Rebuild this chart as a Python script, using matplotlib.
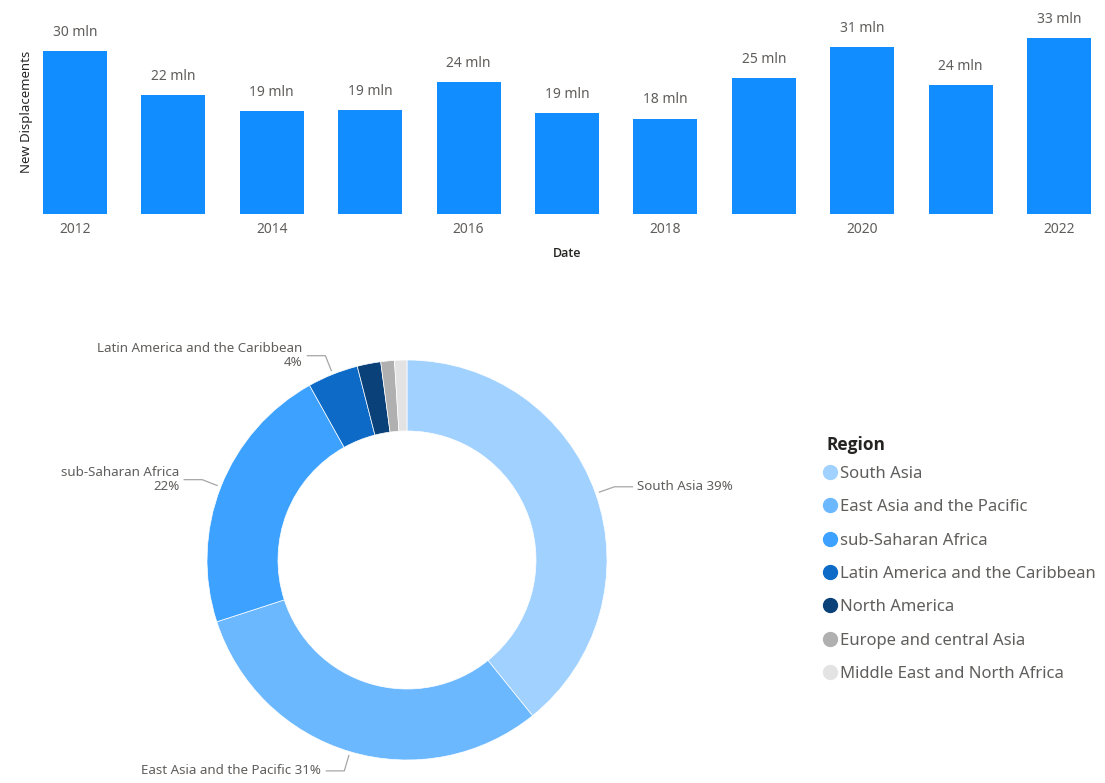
import numpy as np
import matplotlib
matplotlib.use("Agg")
import matplotlib.pyplot as plt
from matplotlib.lines import Line2D

plt.rcParams["font.family"] = ["Noto Sans", "DejaVu Sans"]
BOLD_FAMILY = ["Open Sans", "Lato", "DejaVu Sans"]

# bar chart data: new displacements per year (millions)
years = [2012, 2013, 2014, 2015, 2016, 2017, 2018, 2019, 2020, 2021, 2022]
displacements = [30.0, 21.9, 19.0, 19.2, 24.3, 18.6, 17.6, 25.0, 30.8, 23.7, 32.5]
bar_labels = ["30 mln", "22 mln", "19 mln", "19 mln", "24 mln", "19 mln",
              "18 mln", "25 mln", "31 mln", "24 mln", "33 mln"]

# donut data: share by region (%)
regions = ["South Asia", "East Asia and the Pacific", "sub-Saharan Africa",
           "Latin America and the Caribbean", "North America",
           "Europe and central Asia", "Middle East and North Africa"]
shares = [39.2, 30.8, 21.9, 4.1, 1.9, 1.1, 1.0]
region_colors = ["#A0D1FF", "#6CB8FF", "#3DA2FF", "#0D6BC7", "#0A4178",
                 "#B0B0B0", "#E3E3E3"]
slice_labels = ["South Asia 39%", "East Asia and the Pacific 31%",
                "sub-Saharan Africa\n22%", "Latin America and the Caribbean\n4%",
                None, None, None]

W, H = 1105, 783
fig = plt.figure(figsize=(W / 100, H / 100), dpi=100)

grey = "#605E5C"
dark = "#252423"

# ---- top bar chart
ax = fig.add_axes([35.6 / W, 1 - 214 / H, (1098.4 - 35.6) / W, 204 / H])
x = np.arange(len(years))
ax.bar(x, displacements, width=0.65, color="#118DFF")
for xi, v, lab in zip(x, displacements, bar_labels):
    ax.annotate(lab, (xi, v), xytext=(0, 8), textcoords="offset points",
                ha="center", va="bottom", fontsize=10, color=grey)
ax.set_xlim(-0.4, 10.4)
ax.set_ylim(0, 37.6)
ax.set_xticks(x[::2])
ax.set_xticklabels([str(y) for y in years[::2]], fontsize=10, color=grey)
ax.tick_params(axis="x", length=0, pad=6)
ax.set_yticks([])
for s in ax.spines.values():
    s.set_visible(False)
ax.set_xlabel("Date", fontsize=9, color=dark, fontweight="semibold",
              family=BOLD_FAMILY, labelpad=7)
ax.set_ylabel("New Displacements", fontsize=9.5, color=dark, labelpad=2)

# ---- donut
ax2 = fig.add_axes([187 / W, 3 / H, 440 / W, 440 / H])
wedges, _ = ax2.pie(shares, colors=region_colors, startangle=90, counterclock=False,
                    radius=1.0, wedgeprops=dict(width=0.355, edgecolor="white",
                                                linewidth=0.5))
ax2.set_xlim(-1.1, 1.1)
ax2.set_ylim(-1.1, 1.1)
ax2.set_aspect("equal")
ax2.axis("off")

for w, lab in zip(wedges, slice_labels):
    if lab is None:
        continue
    ang = np.deg2rad((w.theta1 + w.theta2) / 2)
    c, s = np.cos(ang), np.sin(ang)
    side = 1 if c >= 0 else -1
    x0, y0 = 1.02 * c, 1.02 * s
    x1, y1 = 1.1 * c, 1.1 * s
    x2 = x1 + side * 0.09
    ax2.plot([x0, x1, x2], [y0, y1, y1], color="#A6A6A6", lw=0.9, clip_on=False)
    ax2.text(x2 + side * 0.025, y1, lab, ha="left" if side > 0 else "right",
             va="center", fontsize=9.6, color=grey, clip_on=False,
             multialignment="right" if side < 0 else "left", linespacing=1.1)

# ---- legend
fig.text(826 / W, 1 - 445 / H, "Region", fontsize=12.5, fontweight="bold",
         family=BOLD_FAMILY, color=dark, ha="left", va="center")
handles = [Line2D([0], [0], marker="o", linestyle="", markersize=10,
                  markerfacecolor=c, markeredgecolor=c) for c in region_colors]
leg = fig.legend(handles, regions, loc="upper left",
                 bbox_to_anchor=(822 / W, 1 - 466 / H), frameon=False,
                 fontsize=12, handletextpad=0.05, handlelength=1.0,
                 labelspacing=1.04, borderaxespad=0, borderpad=0)
for t in leg.get_texts():
    t.set_color(grey)

fig.savefig("out.png", dpi=100)
